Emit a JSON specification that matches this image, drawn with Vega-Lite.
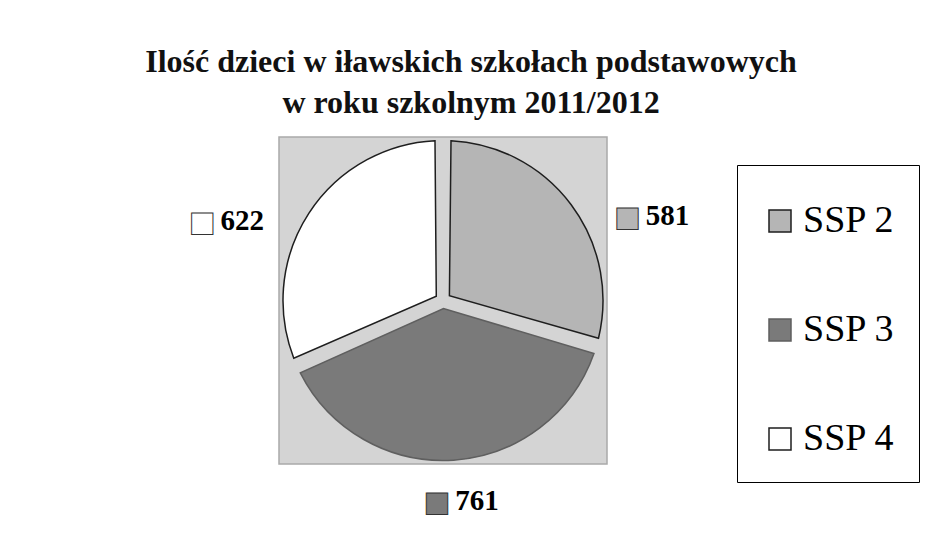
{
  "$schema": "https://vega.github.io/schema/vega-lite/v6.json",
  "width": 328,
  "height": 327,
  "autosize": {"type": "none"},
  "padding": {"left": 279, "top": 137, "right": 320, "bottom": 86},
  "background": "white",
  "view": {"fill": "#d4d4d4", "stroke": "#a9a9a9", "strokeWidth": 1.5},
  "title": {
    "text": ["Ilość dzieci w iławskich szkołach podstawowych", "w roku szkolnym 2011/2012"],
    "font": "Liberation Serif",
    "fontSize": 32,
    "fontWeight": "bold",
    "color": "#111111",
    "anchor": "middle",
    "frame": "group",
    "dx": 28,
    "offset": -7,
    "lineHeight": 41
  },
  "data": {
    "values": [
      {"school": "SSP 2", "children": 581},
      {"school": "SSP 3", "children": 761},
      {"school": "SSP 4", "children": 622}
    ]
  },
  "encoding": {
    "theta": {"field": "children", "type": "quantitative", "stack": true},
    "order": {"field": "school", "type": "nominal", "sort": "ascending"},
    "color": {
      "field": "school",
      "type": "nominal",
      "scale": {"domain": ["SSP 2", "SSP 3", "SSP 4"], "range": ["#b5b5b5", "#7a7a7a", "#ffffff"]},
      "legend": {
        "title": " ",
        "titleFontSize": 8,
        "titlePadding": 5,
        "orient": "none",
        "legendX": 458,
        "legendY": 28,
        "symbolType": "square",
        "symbolSize": 484,
        "symbolStrokeWidth": 1.5,
        "labelFont": "Liberation Serif",
        "labelFontSize": 38,
        "labelColor": "#000000",
        "labelOffset": 4,
        "rowPadding": 71,
        "padding": 24,
        "strokeColor": "#000000"
      }
    }
  },
  "layer": [
    {
      "mark": {"type": "arc", "outerRadius": 160, "innerRadius": 8, "padAngle": 0.1, "strokeWidth": 1.5},
      "encoding": {
        "stroke": {
          "field": "school",
          "type": "nominal",
          "scale": {"domain": ["SSP 2", "SSP 3", "SSP 4"], "range": ["#1e1e1e", "#5f5f5f", "#1e1e1e"]},
          "legend": {
            "title": " ",
            "titleFontSize": 8,
            "titlePadding": 5,
            "orient": "none",
            "legendX": 458,
            "legendY": 28,
            "symbolType": "square",
            "symbolSize": 484,
            "symbolStrokeWidth": 1.5,
            "labelFont": "Liberation Serif",
            "labelFontSize": 38,
            "labelColor": "#000000",
            "labelOffset": 4,
            "rowPadding": 71,
            "padding": 24,
            "strokeColor": "#000000"
          }
        }
      }
    },
    {
      "mark": {"type": "text", "radius": 227, "thetaOffset": 0.259, "dx": -26, "dy": 2, "font": "DejaVu Sans", "fontSize": 28, "stroke": "#333333", "strokeWidth": 1, "align": "center", "baseline": "middle"},
      "encoding": {"text": {"condition": {"test": "datum.school === 'SSP 2'", "value": "■"}, "value": ""}}
    },
    {
      "mark": {"type": "text", "radius": 227, "thetaOffset": 0.259, "dx": 14, "font": "Liberation Serif", "fontWeight": "bold", "fontSize": 29, "align": "center", "baseline": "middle"},
      "encoding": {"color": {"value": "#000000"}, "text": {"condition": {"test": "datum.school === 'SSP 2'", "field": "children", "type": "quantitative"}, "value": ""}}
    },
    {
      "mark": {"type": "text", "radius": 201, "thetaOffset": -0.034, "dx": -26, "dy": 2, "font": "DejaVu Sans", "fontSize": 28, "stroke": "#333333", "strokeWidth": 1, "align": "center", "baseline": "middle"},
      "encoding": {"text": {"condition": {"test": "datum.school === 'SSP 3'", "value": "■"}, "value": ""}}
    },
    {
      "mark": {"type": "text", "radius": 201, "thetaOffset": -0.034, "dx": 14, "font": "Liberation Serif", "fontWeight": "bold", "fontSize": 29, "align": "center", "baseline": "middle"},
      "encoding": {"color": {"value": "#000000"}, "text": {"condition": {"test": "datum.school === 'SSP 3'", "field": "children", "type": "quantitative"}, "value": ""}}
    },
    {
      "mark": {"type": "text", "radius": 229, "thetaOffset": -0.22, "dx": -26, "dy": 2, "font": "DejaVu Sans", "fontSize": 28, "stroke": "#333333", "strokeWidth": 1, "align": "center", "baseline": "middle"},
      "encoding": {"text": {"condition": {"test": "datum.school === 'SSP 4'", "value": "■"}, "value": ""}}
    },
    {
      "mark": {"type": "text", "radius": 229, "thetaOffset": -0.22, "dx": 14, "font": "Liberation Serif", "fontWeight": "bold", "fontSize": 29, "align": "center", "baseline": "middle"},
      "encoding": {"color": {"value": "#000000"}, "text": {"condition": {"test": "datum.school === 'SSP 4'", "field": "children", "type": "quantitative"}, "value": ""}}
    }
  ]
}
